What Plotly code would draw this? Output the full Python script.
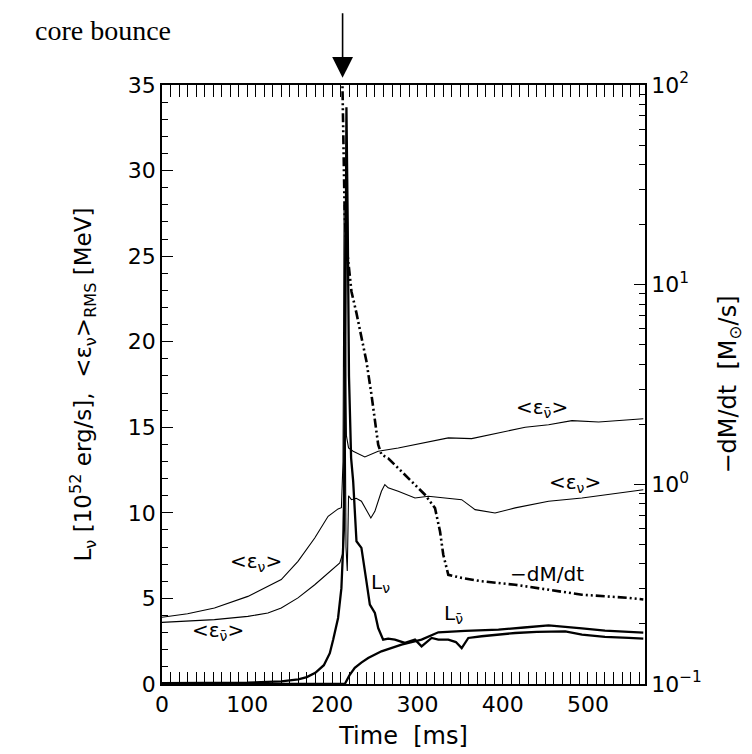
import plotly.graph_objects as go

# ---------------- data ----------------
bounce_time = 212.0

# electron-neutrino luminosity L_nu [1e52 erg/s]
t_Lnu = [0, 100, 140, 160, 170, 180, 190, 197, 201, 206.7, 210.6, 213.5, 215.2, 216.5,
         218.0, 219.5, 222.0, 224.4, 228.3, 234.1, 240.0, 244.0, 249.9, 253.8, 259.6,
         265.5, 273.4, 285.2, 297.0, 304.7, 316.5, 324.4, 336.1, 345.0, 351.8, 359.6,
         375.3, 395.0, 414.6, 440.0, 473.4, 493.0, 520.0, 548.0, 565.0]
v_Lnu = [0.05, 0.08, 0.15, 0.27, 0.4, 0.65, 1.1, 1.8, 2.6, 3.86, 5.6, 9.0, 20.0, 33.7,
         27.0, 18.0, 13.2, 11.85, 8.34, 7.95, 6.0, 4.64, 4.15, 3.27, 2.59,
         2.65, 2.59, 2.4, 2.59, 2.2, 2.69, 2.59, 2.59, 2.45, 2.1, 2.69,
         2.79, 2.9, 2.98, 3.05, 3.08, 2.88, 2.75, 2.69, 2.65]

# electron-antineutrino luminosity
t_Lnub = [0, 210, 214.6, 220.0, 226.3, 234.0, 242.0, 257.6, 281.2, 304.7, 324.4, 355.8,
          395.0, 425.0, 453.8, 493.0, 520.0, 548.0, 565.0]
v_Lnub = [0.0, 0.0, 0.0, 0.5, 0.94, 1.25, 1.52, 1.91, 2.3, 2.59, 3.02, 3.1,
          3.18, 3.3, 3.43, 3.25, 3.12, 3.04, 3.0]

# RMS energy of electron neutrinos [MeV]
t_Enu = [0, 30, 61.6, 100.8, 140, 159.6, 179.3, 195, 206.7, 210.6, 212.5, 213.8, 214.8,
         216.0, 217.5, 219.0, 222.4, 228.0, 234.1, 242.0, 245.2, 249.9, 257.6, 261.6,
         265.5, 277.3, 297.0, 312.6, 336.1, 351.8, 367.5, 391.0, 414.6, 453.8, 493.0,
         548.0, 565.0]
v_Enu = [3.9, 4.1, 4.44, 5.12, 6.1, 7.17, 8.53, 9.8, 10.23, 10.3, 13.0, 28.0, 18.0,
         8.0, 6.6, 11.0, 10.77, 10.85, 10.68, 10.0, 9.7, 10.09, 11.26, 11.65,
         11.46, 11.26, 10.87, 10.97, 10.87, 10.77, 10.19, 9.99, 10.29, 10.68, 10.87,
         11.26, 11.35]

# RMS energy of electron antineutrinos [MeV]
t_Enub = [0, 61.6, 100.8, 124.3, 140, 159.6, 179.3, 195, 208.7, 212.0, 213.5, 215.0,
          216.5, 219.0, 224.4, 238.1, 253.8, 277.3, 297.0, 336.1, 363.5, 395.0, 426.4,
          453.8, 481.2, 512.6, 548.0, 565.0]
v_Enub = [3.6, 3.76, 3.95, 4.15, 4.44, 5.03, 5.8, 6.49, 7.07, 7.6, 12.0, 22.0,
          14.5, 13.8, 13.6, 13.27, 13.6, 13.79, 13.99, 14.38, 14.34, 14.67, 15.0,
          15.15, 15.39, 15.31, 15.45, 15.5]

# mass accretion rate -dM/dt [Msun/s]
t_Mdot = [211.5, 212.5, 213.5, 214.5, 216.5, 218.5, 222.4, 228.3, 234.0, 240.0, 245.9,
          249.9, 253.8, 257.6, 265.5, 281.2, 297.0, 308.7, 320.5, 326.4, 330.2, 336.1,
          351.8, 375.0, 414.6, 453.8, 493.0, 548.0, 565.0]
v_Mdot = [120, 60, 35, 22, 16, 13.6, 9.25, 7.2, 5.6, 4.13, 2.81,
          2.07, 1.58, 1.41, 1.35, 1.16, 0.995, 0.887, 0.76, 0.58, 0.444, 0.352,
          0.34, 0.327, 0.314, 0.296, 0.28, 0.27, 0.265]

# curve labels: (text, time, value on left axis)
label_text = ["&lt;ε<sub>ν</sub>&gt;", "&lt;ε<sub>ν̄</sub>&gt;", "L<sub>ν</sub>",
              "L<sub>ν̄</sub>", "&lt;ε<sub>ν</sub>&gt;", "&lt;ε<sub>ν̄</sub>&gt;", "−dM/dt"]
label_t = [110, 66, 257, 342, 485, 446, 452]
label_v = [7.1, 3.1, 5.9, 4.1, 11.75, 16.1, 6.4]

x_ticks = [0, 100, 200, 300, 400, 500]
y_ticks = [0, 5, 10, 15, 20, 25, 30, 35]
y2_ticks = [0.1, 1, 10, 100]
y2_ticktext = ["10<sup>−1</sup>", "10<sup>0</sup>", "10<sup>1</sup>", "10<sup>2</sup>"]

# ---------------- figure ----------------
FONT = "DejaVu Sans"
fig = go.Figure()
thick = dict(color="black", width=2.3)
thin = dict(color="black", width=1.1)

fig.add_trace(go.Scatter(x=t_Enu, y=v_Enu, mode="lines", line=thin))
fig.add_trace(go.Scatter(x=t_Enub, y=v_Enub, mode="lines", line=thin))
fig.add_trace(go.Scatter(x=t_Lnu, y=v_Lnu, mode="lines", line=thick))
fig.add_trace(go.Scatter(x=t_Lnub, y=v_Lnub, mode="lines", line=thick))
fig.add_trace(go.Scatter(x=t_Mdot, y=v_Mdot, mode="lines", yaxis="y2",
                         line=dict(color="black", width=2.6,
                                   dash="9px,3px,2px,3px,2px,3px")))

for txt, tx, vy in zip(label_text, label_t, label_v):
    fig.add_annotation(x=tx, y=vy, xref="x", yref="y", text=txt, showarrow=False,
                       font=dict(family=FONT, size=20, color="black"))

# core bounce arrow and text
fig.add_annotation(x=bounce_time, y=1.012, xref="x", yref="paper", text="",
                   showarrow=True, ax=0, ay=-66, arrowhead=2, arrowsize=2.6,
                   arrowwidth=1.6, arrowcolor="black")
fig.add_annotation(xref="paper", yref="paper", x=(95 - 154) / 483, y=1 + (77 - 23) / 599,
                   xanchor="center", yanchor="middle", text="core bounce",
                   showarrow=False,
                   font=dict(family="Liberation Serif", size=28, color="black"))

axis_common = dict(showgrid=False, zeroline=False, showline=True, linecolor="black",
                   linewidth=1.5, ticks="inside", tickcolor="black", tickwidth=1.3,
                   tickfont=dict(family=FONT, size=22, color="black"))

fig.update_layout(
    width=752, height=754,
    margin=dict(l=154, r=115, t=77, b=78),
    paper_bgcolor="white", plot_bgcolor="white",
    showlegend=False,
    xaxis=dict(range=[0, 567], tickvals=x_ticks, ticklen=12, mirror="allticks",
               minor=dict(dtick=10, ticks="inside", ticklen=6, tickcolor="black"),
               title=dict(text="Time  [ms]", font=dict(family=FONT, size=24, color="black"),
                          standoff=11),
               **axis_common),
    yaxis=dict(range=[0, 35], tickvals=y_ticks, ticklen=11,
               minor=dict(dtick=1, ticks="inside", ticklen=6, tickcolor="black"),
               title=dict(text="L<sub>ν</sub> [10<sup>52</sup> erg/s],  &lt;ε<sub>ν</sub>&gt;<sub>RMS</sub> [MeV]",
                          font=dict(family=FONT, size=23, color="black"), standoff=30),
               **axis_common),
    yaxis2=dict(type="log", range=[-1, 2], overlaying="y", side="right",
                tickvals=y2_ticks, ticktext=y2_ticktext, ticklen=11,
                minor=dict(tickvals=[m * d for d in (0.1, 1, 10) for m in range(2, 10)],
                           ticks="inside", ticklen=6, tickcolor="black"),
                title=dict(text="−dM/dt  [M<sub>⊙</sub>/s]",
                           font=dict(family=FONT, size=24, color="black"), standoff=18),
                **axis_common),
)

fig.write_html("out.html")
